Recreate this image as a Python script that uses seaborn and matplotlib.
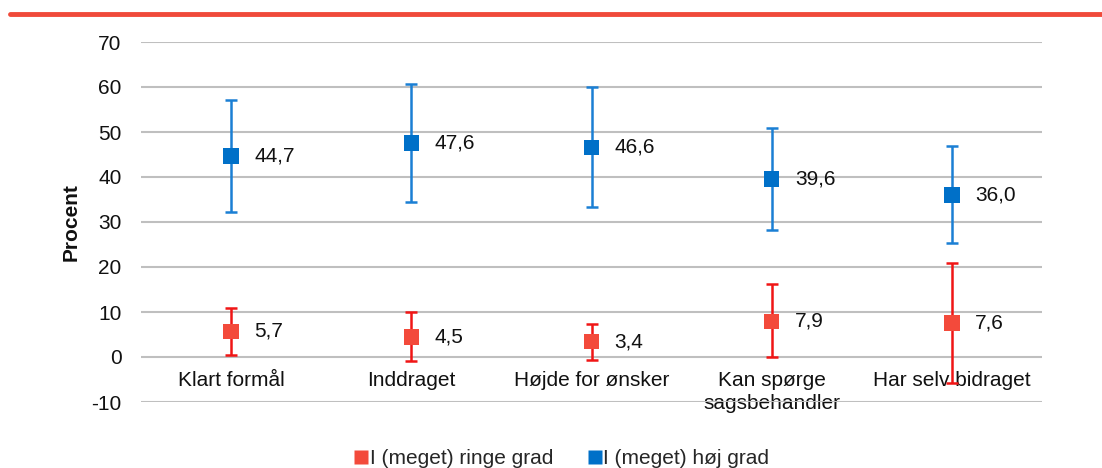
import matplotlib
matplotlib.use("Agg")
import matplotlib.pyplot as plt
from matplotlib.lines import Line2D
import seaborn as sns
import pandas as pd
import numpy as np

categories = ["Klart formål", "Inddraget", "Højde for ønsker", "Kan spørge\nsagsbehandler", "Har selv bidraget"]
series_names = ["I (meget) ringe grad", "I (meget) høj grad"]
low_values = [5.7, 4.5, 3.4, 7.9, 7.6]
low_lower = [0.4, -0.9, -0.6, -0.1, -5.8]
low_upper = [11.0, 10.0, 7.3, 16.2, 21.0]
high_values = [44.7, 47.6, 46.6, 39.6, 36.0]
high_lower = [32.2, 34.4, 33.3, 28.3, 25.3]
high_upper = [57.1, 60.7, 60.1, 51.0, 46.8]
y_ticks = [-10, 0, 10, 20, 30, 40, 50, 60, 70]

sns.set_theme(style="white")
plt.rcParams['font.family'] = ['Liberation Sans', 'DejaVu Sans']
FS = 15

fig = plt.figure(figsize=(11.02, 4.68), dpi=100)
ax = fig.add_axes([141/1102, 1-402/468, (1042-141)/1102, (402-42)/468])
ax.spines["bottom"].set_position(("data", 0))

pos = np.arange(len(categories))
df = pd.DataFrame({
    "pos": np.concatenate([pos, pos]),
    "value": low_values + high_values,
    "lower": low_lower + high_lower,
    "upper": low_upper + high_upper,
    "series": [series_names[0]] * len(categories) + [series_names[1]] * len(categories),
})

marker_colors = {series_names[0]: "#F34A3B", series_names[1]: "#0070C8"}
bar_colors = {series_names[0]: "#F01515", series_names[1]: "#1A7FD4"}

for s in [series_names[1], series_names[0]]:
    d = df[df.series == s]
    ax.errorbar(d["pos"], d["value"],
                yerr=[d["value"] - d["lower"], d["upper"] - d["value"]],
                fmt="none", ecolor=bar_colors[s], elinewidth=1.8, capsize=4.5, capthick=1.8, zorder=3)

sns.scatterplot(data=df, x="pos", y="value", hue="series", palette=marker_colors,
                marker="s", s=125, edgecolor="none", legend=False, ax=ax, zorder=4)

for _, r in df.iterrows():
    ax.text(r["pos"] + 0.128, r["value"], f"{r['value']:.1f}".replace(".", ","),
            fontsize=FS, va="center", ha="left", color="#111111", zorder=5)

ax.set_xlim(-0.5, len(categories) - 0.5)
ax.set_ylim(-10, 70)
ax.set_yticks(y_ticks)
ax.set_yticklabels([str(t) for t in y_ticks], fontsize=FS, color="#111111")
ax.set_xticks(pos)
ax.set_xticklabels(categories, fontsize=FS, color="#111111", linespacing=1.3)
for sp in ax.spines.values():
    sp.set_color("none")
ax.tick_params(axis="y", length=0, pad=14, labelsize=FS)
ax.tick_params(axis="x", length=0, pad=10, labelsize=FS)
ax.yaxis.grid(True, color="#BFBFBF", linewidth=1.5)
ax.set_axisbelow(True)
ax.set_xlabel("")
ax.set_ylabel("Procent", fontsize=FS, fontweight="bold", labelpad=8, color="#111111")

handles = [Line2D([0], [0], marker="s", linestyle="none", markersize=10,
                  markerfacecolor=marker_colors[s], markeredgecolor="none", label=s)
           for s in series_names]
fig.legend(handles=handles, loc="lower center", bbox_to_anchor=(0.508, -0.04), ncol=2,
           frameon=False, fontsize=FS, handletextpad=-0.1, columnspacing=1.5, handlelength=1.0)

fig.add_artist(Line2D([10/1102, 1.0], [1-14/468, 1-14/468], color="#F04A3A", linewidth=3.5,
                      transform=fig.transFigure))

fig.savefig("out.png", dpi=100)
